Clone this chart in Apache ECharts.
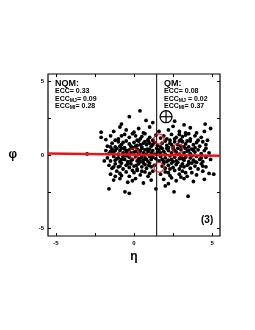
<!DOCTYPE html>
<html><head><meta charset="utf-8">
<script src="https://cdn.jsdelivr.net/npm/echarts@6/dist/echarts.min.js"></script>
<style>html,body{margin:0;padding:0;background:#fff}#c{width:255px;height:330px}</style>
</head><body><div id="c"></div>
<script>
// ---- data ----
const cloudPoints = [
[0.38,3.0],[-0.3,2.6],[0.77,2.35],[4.55,2.1],[1.2,2.2],[2.6,2.3],[3.2,2.05],[-0.8,2.1],[1.9,2.4],
[-2.1,1.55],[4.5,1.6],[0.3,1.8],[-0.5,1.7],[1.0,1.9],[2.2,1.7],[2.9,1.6],[3.6,1.85],[4.0,1.5],[-1.3,1.6],[0.0,1.55],[1.6,1.6],[2.5,1.95],[3.3,1.5],[-0.9,1.9],[0.6,1.5],[4.9,1.8],
[-2.1,1.2],[-1.5,1.3],[-1.0,1.1],[-0.6,1.4],[-0.3,1.2],[0.1,1.3],[0.4,1.1],[0.7,1.45],[1.0,1.2],[1.2,1.0],[1.9,1.3],[2.1,1.1],[2.4,1.4],[2.7,1.2],[3.0,1.05],[3.3,1.35],[3.6,1.1],[3.9,1.3],[4.3,1.2],[4.7,1.0],[-1.2,1.0],[0.2,1.0],[0.9,1.05],[2.3,1.0],[3.5,1.45],[-0.1,1.45],[1.4,1.35],[4.1,1.0],[-1.8,1.05],[2.9,1.4],
[-1.7,0.6],[-1.4,0.8],[-1.2,0.55],[-1.0,0.9],[-0.8,0.7],[-0.6,0.5],[-0.5,0.95],[-0.3,0.75],[-0.2,0.6],[0.0,0.85],[0.2,0.65],[0.3,0.95],[0.5,0.55],[0.6,0.8],[0.8,0.7],[0.9,0.95],[1.1,0.6],[1.3,0.85],[1.7,0.55],[1.8,0.8],[2.0,0.95],[2.1,0.65],[2.3,0.8],[2.5,0.55],[2.6,0.9],[2.8,0.7],[3.0,0.6],[3.1,0.9],[3.3,0.75],[3.5,0.55],[3.6,0.95],[3.8,0.7],[4.0,0.85],[4.2,0.6],[4.4,0.9],[4.6,0.7],[-0.9,0.6],[0.4,0.7],[1.5,0.65],[2.9,0.95],[3.9,0.5],[-0.1,0.5],[1.0,0.8],[2.2,0.5],
[-0.7,0.85],[0.1,0.6],[0.7,0.9],[1.2,0.7],[2.4,0.7],[3.2,0.55],[3.4,0.95],[-1.5,0.55],[0.5,1.25],[1.7,1.15],[2.6,1.1],[3.1,1.25],[-0.8,1.3],
[-1.8,0.3],[-1.6,0.1],[-1.4,0.4],[-1.3,0.2],[-1.1,0.45],[-1.0,0.05],[-0.9,0.3],[-0.7,0.15],[-0.6,0.4],[-0.5,0.2],[-0.4,0.05],[-0.3,0.35],[-0.2,0.15],[-0.1,0.45],[0.1,0.25],[0.2,0.4],[0.3,0.1],[0.4,0.3],[0.5,0.45],[0.6,0.15],[0.7,0.35],[0.8,0.05],[0.9,0.25],[1.0,0.4],[1.1,0.15],[1.2,0.3],[1.3,0.05],[1.6,0.35],[1.7,0.15],[1.8,0.45],[1.9,0.25],[2.0,0.05],[2.2,0.3],[2.4,0.15],[2.5,0.4],[2.7,0.2],[2.9,0.05],[3.0,0.35],[3.2,0.15],[3.3,0.45],[3.4,0.25],[3.6,0.1],[3.7,0.4],[3.9,0.2],[4.1,0.35],[4.3,0.1],[4.5,0.3],[4.8,0.15],[-3.0,0.07],[-0.8,0.45],[0.0,0.2],[1.5,0.2],[2.6,0.3],[3.5,0.3],
[-1.2,0.3],[-0.45,0.3],[0.35,0.2],[0.85,0.4],[1.45,0.45],[2.1,0.45],[2.8,0.45],[3.8,0.3],[4.6,0.45],[-1.5,0.25],
[-1.7,-0.2],[-1.5,-0.4],[-1.3,-0.1],[-1.2,-0.35],[-1.0,-0.2],[-0.9,-0.45],[-0.7,-0.1],[-0.6,-0.3],[-0.4,-0.45],[-0.3,-0.15],[-0.1,-0.3],[0.1,-0.1],[0.2,-0.4],[0.3,-0.25],[0.5,-0.05],[0.6,-0.35],[0.7,-0.2],[0.9,-0.45],[1.0,-0.1],[1.1,-0.3],[1.2,-0.15],[1.6,-0.4],[1.7,-0.1],[1.8,-0.3],[2.0,-0.2],[2.1,-0.45],[2.3,-0.05],[2.4,-0.3],[2.6,-0.15],[2.7,-0.4],[2.9,-0.25],[3.0,-0.05],[3.2,-0.35],[3.3,-0.15],[3.5,-0.45],[3.6,-0.2],[3.8,-0.35],[4.0,-0.1],[4.2,-0.3],[4.4,-0.45],[4.6,-0.15],[4.9,-0.3],[-0.5,-0.05],[0.4,-0.45],[1.4,-0.25],[2.2,-0.35],[3.9,-0.45],[-1.9,-0.4],
[-1.1,-0.25],[-0.2,-0.4],[0.45,-0.2],[0.8,-0.3],[1.9,-0.45],[2.5,-0.45],[3.1,-0.25],[3.7,-0.05],[4.3,-0.2],[-0.8,-0.3],
[-1.6,-0.7],[-1.4,-0.9],[-1.2,-0.6],[-1.0,-0.8],[-0.8,-0.55],[-0.7,-0.95],[-0.5,-0.7],[-0.3,-0.85],[-0.2,-0.6],[0.0,-0.75],[0.2,-0.95],[0.3,-0.6],[0.5,-0.8],[0.7,-0.65],[0.8,-0.9],[1.0,-0.55],[1.1,-0.8],[1.3,-0.7],[1.9,-0.6],[2.0,-0.9],[2.2,-0.7],[2.4,-0.55],[2.5,-0.85],[2.7,-0.65],[2.9,-0.95],[3.1,-0.6],[3.2,-0.8],[3.4,-0.7],[3.6,-0.9],[3.7,-0.55],[3.9,-0.75],[4.1,-0.95],[4.3,-0.6],[4.6,-0.8],[-0.9,-0.75],[0.6,-0.55],[1.8,-0.75],[2.8,-0.5],[4.0,-0.5],
[-1.3,-0.8],[-0.4,-0.6],[0.15,-0.7],[0.95,-0.7],[2.3,-0.95],[3.0,-0.75],[3.5,-0.6],[4.4,-0.75],
[-1.5,-1.3],[-1.1,-1.1],[-0.8,-1.4],[-0.5,-1.15],[-0.3,-1.45],[0.0,-1.2],[0.2,-1.05],[0.4,-1.35],[0.7,-1.15],[0.9,-1.45],[1.2,-1.1],[1.7,-1.3],[2.0,-1.15],[2.3,-1.4],[2.6,-1.05],[2.9,-1.3],[3.1,-1.1],[3.4,-1.45],[3.7,-1.2],[4.0,-1.35],[4.4,-1.1],[4.8,-1.25],[-1.2,-1.45],[0.5,-1.1],[3.0,-1.5],
[-0.9,-1.25],[1.0,-1.25],[2.2,-1.2],[3.3,-1.2],[-0.1,-1.05],
[-1.3,-1.7],[-0.9,-1.6],[-0.4,-1.85],[0.1,-1.6],[0.6,-1.9],[1.1,-1.7],[1.9,-1.65],[2.2,-1.95],[2.7,-1.75],[3.2,-1.6],[3.8,-1.8],[4.5,-1.65],[5.1,-1.3],[-0.1,-1.75],[2.4,-1.55],
[-1.6,-2.3],[-0.58,-2.5],[-0.3,-2.6],[2.0,-2.1],[2.56,-2.5],[3.46,-2.8],[1.4,-2.3]
];
const redCircles = [[0.0,0.1],[1.6,1.08],[1.6,-0.83],[2.8,0.4]];
const qmMarker = [[2.05,2.6]];
const fitLine = [[-5.5,0.1],[5.5,-0.05]];
const splitEta = 1.45;
const axisRange = [-5.5,5.5];
const tickValues = [-5,-2.5,0,2.5,5];
const labelValues = [-5,0,5];
const nqmText = ['NQM:','ECC= 0.33','ECC{s|MJ}= 0.09','ECC{s|MI}= 0.28'];
const qmText = ['QM:','ECC= 0.08','ECC{s|MJ} = 0.02','ECC{s|MI}= 0.37'];

const FONT = 'Liberation Sans, Arial, sans-serif';
const chart = echarts.init(document.getElementById('c'), null, {renderer:'canvas'});
function mkAxis(pos, showLabel, name){
  return {
    type:'value', position:pos, min:axisRange[0], max:axisRange[1],
    splitLine:{show:false},
    axisLine:{show:false, onZero:false},
    axisTick:{show:true, inside:true, length:3, customValues:tickValues, lineStyle:{color:'#000', width:1}},
    axisLabel:{show:showLabel, customValues:labelValues, fontSize:6, fontWeight:'bold', color:'#000', fontFamily:FONT, margin:4},
    name: name||'', nameLocation:'middle', nameGap: pos==='bottom'?15:31,
    nameRotate:0,
    nameTextStyle:{fontSize:12, fontWeight:'bold', color:'#000', fontFamily:FONT}
  };
}
const rich = {s:{fontSize:5.2, fontWeight:'bold', fontFamily:FONT, padding:[3,0,0,0], color:'#000'}};
function textBlock(x, lines){
  const els = [];
  els.push({type:'text', left:x, top:79, style:{text:lines[0], font:'bold 9px '+FONT, fill:'#000'}});
  for(let i=1;i<lines.length;i++){
    els.push({type:'text', left:x, top:80+i*7.6, style:{text:lines[i], fontSize:7, fontWeight:'bold', fontFamily:FONT, fill:'#000', rich:rich}});
  }
  return els;
}
chart.setOption({
  animation:false,
  backgroundColor:'#fff',
  grid:{left:48, right:35, top:74, bottom:94, show:true, borderColor:'#000', borderWidth:1.2, backgroundColor:'transparent'},
  xAxis:[mkAxis('bottom', true, 'η'), mkAxis('top', false)],
  yAxis:[mkAxis('left', true, 'φ'), mkAxis('right', false)],
  series:[
    {type:'scatter', data:cloudPoints, symbolSize:3.8, itemStyle:{color:'#000', opacity:1}, z:2},
    {type:'line', data:fitLine, showSymbol:false, lineStyle:{color:'#e8141b', width:2.4}, z:3},
    {type:'line', data:[[splitEta,axisRange[0]],[splitEta,axisRange[1]]], showSymbol:false, lineStyle:{color:'#000', width:1}, z:3},
    {type:'scatter', data:redCircles, symbol:'circle', symbolSize:10, itemStyle:{color:'rgba(0,0,0,0)', borderColor:'#e8141b', borderWidth:1.5}, z:4},
    {type:'custom', data:qmMarker, z:5, renderItem:function(params, api){
      const p = api.coord([api.value(0), api.value(1)]); const r = 6;
      return {type:'group', children:[
        {type:'circle', shape:{cx:p[0], cy:p[1], r:r}, style:{fill:'#fff', stroke:'#000', lineWidth:1.2}},
        {type:'line', shape:{x1:p[0]-r, y1:p[1], x2:p[0]+r, y2:p[1]}, style:{stroke:'#000', lineWidth:1.2}},
        {type:'line', shape:{x1:p[0], y1:p[1]-r, x2:p[0], y2:p[1]+r}, style:{stroke:'#000', lineWidth:1.2}}
      ]};
    }}
  ],
  graphic: [].concat(textBlock(55, nqmText), textBlock(164, qmText), [
    {type:'text', left:201, top:215, style:{text:'(3)', font:'bold 10px '+FONT, fill:'#000'}}
  ])
});
</script></body></html>
